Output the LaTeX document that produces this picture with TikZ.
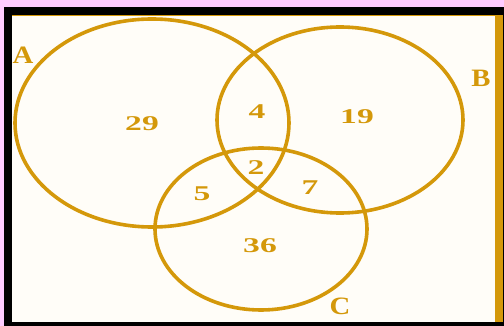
\documentclass[tikz,border=0pt]{standalone}
\usepackage{fontspec}
\setmainfont{Liberation Serif}
\usepackage{tikz}
\usetikzlibrary{positioning}
\definecolor{gold}{HTML}{D4980A}
\definecolor{cream}{HTML}{FFFDF8}
\definecolor{pinkbg}{HTML}{FFCCFF}
\tikzset{
  venn/.style={draw=gold, line width=3.6pt},
  num/.style={text=gold, font=\fontsize{21}{21}\selectfont\bfseries, inner sep=0pt, xscale=1.6},
  setname/.style={text=gold, font=\fontsize{25}{25}\selectfont\bfseries, inner sep=0pt, xscale=1.15}
}

\begin{document}
\begin{tikzpicture}[x=1pt, y=-1pt]
    % frame
    \fill[pinkbg] (0,0) rectangle (504,326);
    \useasboundingbox (0,0) rectangle (504,326);
    \fill[black] (4,7) rectangle (504,326);
    \fill[cream] (12,15) rectangle (495,322);
    \fill[gold] (495,15) rectangle (503,322);
    \fill[gold] (12,15) rectangle (495,16.5);

    % the three sets
    \draw[venn] (152,123) ellipse [x radius=137, y radius=104];
    \draw[venn] (340,120) ellipse [x radius=123, y radius=93];
    \draw[venn] (261,229) ellipse [x radius=106, y radius=81];

    \node[setname] (lA) at (23,55) {A};
    \node[setname] (lB) at (481,78) {B};
    \node[setname] (lC) at (340,306) {C};

    % region counts
    \node[num] (onlyA) at (142,124) {29};
    \node[num] (AB) at (257,112) {4};
    \node[num] (onlyB) at (357,117) {19};
    \node[num] (ABC) at (256,168) {2};
    \node[num] (AC) at (202,194) {5};
    \node[num] (BC) at (310,188) {7};
    \node[num] (onlyC) at (260,246) {36};
\end{tikzpicture}
\end{document}
